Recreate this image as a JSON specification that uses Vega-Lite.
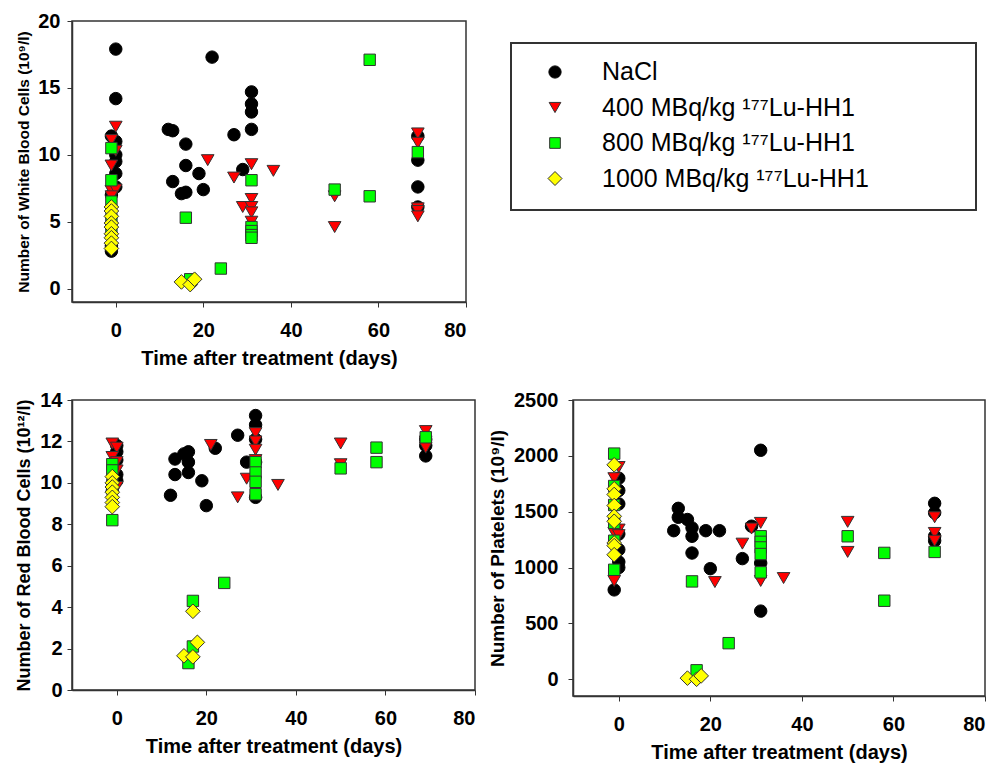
{
  "$schema": "https://vega.github.io/schema/vega-lite/v6.json",
  "background": "white",
  "padding": {"left": 15, "top": 10, "right": 5, "bottom": 3},
  "config": {
    "font": "Liberation Sans",
    "view": {"stroke": "#333333", "strokeWidth": 1.5},
    "axis": {
      "labelFont": "Liberation Sans", "labelFontWeight": "bold", "labelFontSize": 20, "labelColor": "#000000",
      "titleFont": "Liberation Sans", "titleFontWeight": "bold", "titleColor": "#000000",
      "tickColor": "#333333", "domainColor": "#333333", "tickSize": 5, "grid": false, "domainWidth": 1.5, "format": "d"
    },
    "axisX": {"titleFontSize": 20, "labelPadding": 13, "titlePadding": 8},
    "axisY": {"labelPadding": 7, "titlePadding": 6}
  },
  "datasets": {
    "wbc": [
      {"g":"NaCl","d":0,"v":17.9},{"g":"NaCl","d":0,"v":14.2},{"g":"NaCl","d":-1,"v":11.4},{"g":"NaCl","d":0,"v":11.0},{"g":"NaCl","d":0,"v":10.0},{"g":"NaCl","d":0,"v":9.5},{"g":"NaCl","d":0,"v":8.6},{"g":"NaCl","d":-1,"v":7.0},{"g":"NaCl","d":0,"v":7.6},{"g":"NaCl","d":-1,"v":2.8},{"g":"NaCl","d":-1,"v":3.2},
      {"g":"NaCl","d":12,"v":11.9},{"g":"NaCl","d":13,"v":11.8},{"g":"NaCl","d":16,"v":10.8},{"g":"NaCl","d":16,"v":9.2},{"g":"NaCl","d":19,"v":8.6},{"g":"NaCl","d":13,"v":8.0},{"g":"NaCl","d":15,"v":7.1},{"g":"NaCl","d":16,"v":7.2},{"g":"NaCl","d":20,"v":7.4},{"g":"NaCl","d":22,"v":17.3},{"g":"NaCl","d":27,"v":11.5},{"g":"NaCl","d":29,"v":8.9},{"g":"NaCl","d":31,"v":14.7},{"g":"NaCl","d":31,"v":13.8},{"g":"NaCl","d":31,"v":13.2},{"g":"NaCl","d":31,"v":11.9},{"g":"NaCl","d":69,"v":11.4},{"g":"NaCl","d":69,"v":9.6},{"g":"NaCl","d":69,"v":7.6},{"g":"NaCl","d":69,"v":6.1},
      {"g":"400","d":0,"v":12.1},{"g":"400","d":-1,"v":11.1},{"g":"400","d":0,"v":10.3},{"g":"400","d":-1,"v":9.2},{"g":"400","d":-1,"v":7.3},{"g":"400","d":0,"v":7.4},{"g":"400","d":-1,"v":6.9},{"g":"400","d":21,"v":9.6},{"g":"400","d":27,"v":8.3},{"g":"400","d":29,"v":6.1},{"g":"400","d":31,"v":9.3},{"g":"400","d":31,"v":6.7},{"g":"400","d":31,"v":6.1},{"g":"400","d":31,"v":5.7},{"g":"400","d":31,"v":5.0},{"g":"400","d":36,"v":8.8},{"g":"400","d":50,"v":6.9},{"g":"400","d":50,"v":4.6},{"g":"400","d":69,"v":11.6},{"g":"400","d":69,"v":10.9},{"g":"400","d":69,"v":6.0},{"g":"400","d":69,"v":5.8},{"g":"400","d":69,"v":5.4},
      {"g":"800","d":-1,"v":10.5},{"g":"800","d":-1,"v":8.1},{"g":"800","d":-1,"v":6.5},{"g":"800","d":-1,"v":5.2},{"g":"800","d":-1,"v":4.4},{"g":"800","d":16,"v":5.3},{"g":"800","d":17,"v":0.7},{"g":"800","d":24,"v":1.5},{"g":"800","d":31,"v":8.1},{"g":"800","d":31,"v":4.6},{"g":"800","d":31,"v":4.3},{"g":"800","d":31,"v":4.0},{"g":"800","d":31,"v":3.8},{"g":"800","d":50,"v":7.4},{"g":"800","d":58,"v":17.1},{"g":"800","d":58,"v":6.9},{"g":"800","d":69,"v":10.2},
      {"g":"1000","d":-1,"v":6.1},{"g":"1000","d":-1,"v":5.8},{"g":"1000","d":-1,"v":5.4},{"g":"1000","d":-1,"v":4.9},{"g":"1000","d":-1,"v":4.6},{"g":"1000","d":-1,"v":4.1},{"g":"1000","d":-1,"v":3.8},{"g":"1000","d":-1,"v":3.4},{"g":"1000","d":-1,"v":3.0},{"g":"1000","d":15,"v":0.5},{"g":"1000","d":17,"v":0.3},{"g":"1000","d":18,"v":0.7}
    ],
    "rbc": [
      {"g":"NaCl","d":0,"v":11.8},{"g":"NaCl","d":0,"v":11.5},{"g":"NaCl","d":0,"v":11.1},{"g":"NaCl","d":0,"v":10.4},{"g":"NaCl","d":0,"v":10.1},{"g":"NaCl","d":-1,"v":9.6},
      {"g":"NaCl","d":12,"v":9.4},{"g":"NaCl","d":13,"v":11.15},{"g":"NaCl","d":13,"v":10.4},{"g":"NaCl","d":15,"v":11.4},{"g":"NaCl","d":16,"v":11.5},{"g":"NaCl","d":16,"v":11.0},{"g":"NaCl","d":16,"v":10.5},{"g":"NaCl","d":19,"v":10.1},{"g":"NaCl","d":20,"v":8.9},{"g":"NaCl","d":22,"v":11.67},{"g":"NaCl","d":27,"v":12.3},{"g":"NaCl","d":29,"v":11.0},{"g":"NaCl","d":31,"v":13.25},{"g":"NaCl","d":31,"v":12.8},{"g":"NaCl","d":31,"v":12.1},{"g":"NaCl","d":31,"v":11.0},{"g":"NaCl","d":31,"v":9.3},{"g":"NaCl","d":69,"v":11.3},{"g":"NaCl","d":69,"v":11.8},{"g":"NaCl","d":69,"v":12.1},
      {"g":"400","d":-1,"v":11.9},{"g":"400","d":0,"v":11.7},{"g":"400","d":-1,"v":11.25},{"g":"400","d":0,"v":11.0},{"g":"400","d":0,"v":10.6},{"g":"400","d":0,"v":9.8},{"g":"400","d":21,"v":11.83},{"g":"400","d":27,"v":9.3},{"g":"400","d":29,"v":10.2},{"g":"400","d":31,"v":12.4},{"g":"400","d":31,"v":12.0},{"g":"400","d":31,"v":11.6},{"g":"400","d":31,"v":11.1},{"g":"400","d":36,"v":9.9},{"g":"400","d":50,"v":11.9},{"g":"400","d":50,"v":10.9},{"g":"400","d":69,"v":12.5},{"g":"400","d":69,"v":12.0},{"g":"400","d":69,"v":11.7},
      {"g":"800","d":-1,"v":10.9},{"g":"800","d":-1,"v":10.6},{"g":"800","d":-1,"v":9.9},{"g":"800","d":-1,"v":8.2},{"g":"800","d":16,"v":1.3},{"g":"800","d":17,"v":2.1},{"g":"800","d":17,"v":4.3},{"g":"800","d":24,"v":5.17},{"g":"800","d":31,"v":11.0},{"g":"800","d":31,"v":10.5},{"g":"800","d":31,"v":10.05},{"g":"800","d":31,"v":9.45},{"g":"800","d":50,"v":10.7},{"g":"800","d":58,"v":11.7},{"g":"800","d":58,"v":11.0},{"g":"800","d":69,"v":12.2},
      {"g":"1000","d":-1,"v":10.3},{"g":"1000","d":-1,"v":10.0},{"g":"1000","d":-1,"v":9.8},{"g":"1000","d":-1,"v":9.55},{"g":"1000","d":-1,"v":9.3},{"g":"1000","d":-1,"v":9.05},{"g":"1000","d":-1,"v":8.85},{"g":"1000","d":15,"v":1.65},{"g":"1000","d":17,"v":1.6},{"g":"1000","d":17,"v":3.8},{"g":"1000","d":18,"v":2.3}
    ],
    "plt": [
      {"g":"NaCl","d":0,"v":1800},{"g":"NaCl","d":0,"v":1690},{"g":"NaCl","d":0,"v":1570},{"g":"NaCl","d":0,"v":1300},{"g":"NaCl","d":0,"v":1160},{"g":"NaCl","d":0,"v":1050},{"g":"NaCl","d":0,"v":1000},{"g":"NaCl","d":-1,"v":800},
      {"g":"NaCl","d":12,"v":1330},{"g":"NaCl","d":13,"v":1530},{"g":"NaCl","d":13,"v":1450},{"g":"NaCl","d":15,"v":1430},{"g":"NaCl","d":16,"v":1355},{"g":"NaCl","d":16,"v":1280},{"g":"NaCl","d":16,"v":1130},{"g":"NaCl","d":19,"v":1330},{"g":"NaCl","d":20,"v":990},{"g":"NaCl","d":22,"v":1330},{"g":"NaCl","d":27,"v":1080},{"g":"NaCl","d":29,"v":1370},{"g":"NaCl","d":31,"v":2050},{"g":"NaCl","d":31,"v":1040},{"g":"NaCl","d":31,"v":610},{"g":"NaCl","d":69,"v":1575},{"g":"NaCl","d":69,"v":1490},{"g":"NaCl","d":69,"v":1280},{"g":"NaCl","d":69,"v":1240},
      {"g":"400","d":0,"v":1900},{"g":"400","d":-1,"v":1800},{"g":"400","d":0,"v":1340},{"g":"400","d":-1,"v":1310},{"g":"400","d":0,"v":1290},{"g":"400","d":-1,"v":880},{"g":"400","d":21,"v":870},{"g":"400","d":27,"v":1214},{"g":"400","d":29,"v":1349},{"g":"400","d":31,"v":1400},{"g":"400","d":31,"v":880},{"g":"400","d":36,"v":906},{"g":"400","d":50,"v":1409},{"g":"400","d":50,"v":1140},{"g":"400","d":69,"v":1450},{"g":"400","d":69,"v":1310},{"g":"400","d":69,"v":1240},
      {"g":"800","d":-1,"v":2020},{"g":"800","d":-1,"v":1730},{"g":"800","d":-1,"v":1560},{"g":"800","d":-1,"v":1400},{"g":"800","d":-1,"v":1240},{"g":"800","d":-1,"v":980},{"g":"800","d":16,"v":876},{"g":"800","d":17,"v":80},{"g":"800","d":24,"v":323},{"g":"800","d":31,"v":1280},{"g":"800","d":31,"v":1230},{"g":"800","d":31,"v":1180},{"g":"800","d":31,"v":1121},{"g":"800","d":31,"v":957},{"g":"800","d":50,"v":1280},{"g":"800","d":58,"v":1131},{"g":"800","d":58,"v":703},{"g":"800","d":69,"v":1140},
      {"g":"1000","d":-1,"v":1920},{"g":"1000","d":-1,"v":1705},{"g":"1000","d":-1,"v":1654},{"g":"1000","d":-1,"v":1555},{"g":"1000","d":-1,"v":1459},{"g":"1000","d":-1,"v":1414},{"g":"1000","d":-1,"v":1220},{"g":"1000","d":-1,"v":1196},{"g":"1000","d":-1,"v":1115},{"g":"1000","d":15,"v":10},{"g":"1000","d":17,"v":0},{"g":"1000","d":18,"v":30}
    ],
    "leg": [
      {"g":"NaCl","label":"NaCl"},
      {"g":"400","label":"400 MBq/kg ¹⁷⁷Lu-HH1"},
      {"g":"800","label":"800 MBq/kg ¹⁷⁷Lu-HH1"},
      {"g":"1000","label":"1000 MBq/kg ¹⁷⁷Lu-HH1"}
    ]
  },
  "spacing": 20,
  "vconcat": [
    {
      "spacing": 42,
      "hconcat": [
        {
          "width": 394, "height": 281,
          "data": {"name": "wbc"},
          "mark": {"type": "point", "filled": true, "strokeWidth": 1, "opacity": 1},
          "encoding": {
            "x": {"field": "d", "type": "quantitative", "scale": {"domain": [-10, 80], "nice": false, "zero": false}, "axis": {"values": [0, 20, 40, 60, 80], "title": "Time after treatment (days)"}},
            "y": {"field": "v", "type": "quantitative", "scale": {"domain": [-1, 20], "nice": false, "zero": false}, "axis": {"values": [0, 5, 10, 15, 20], "title": "Number of White Blood Cells (10⁹/l)", "titleFontSize": 15.5}},
            "color": {"field": "g", "type": "nominal", "scale": {"domain": ["NaCl", "400", "800", "1000"], "range": ["#000000", "#ff0000", "#00ff00", "#ffff00"]}, "legend": null},
            "shape": {"field": "g", "type": "nominal", "scale": {"domain": ["NaCl", "400", "800", "1000"], "range": ["circle", "triangle-down", "square", "diamond"]}, "legend": null},
            "stroke": {"field": "g", "type": "nominal", "scale": {"domain": ["NaCl", "400", "800", "1000"], "range": ["#000000", "#333333", "#333333", "#333333"]}, "legend": null},
            "size": {"field": "g", "type": "nominal", "scale": {"type": "ordinal", "domain": ["NaCl", "400", "800", "1000"], "range": [155, 160, 130, 215]}, "legend": null}
          }
        },
        {
          "width": 465, "height": 189,
          "view": {"stroke": null},
          "data": {"name": "leg"},
          "layer": [
            {
              "mark": {"type": "rect", "fill": null, "stroke": "#333333", "strokeWidth": 1.5},
              "encoding": {"x": {"value": 0}, "x2": {"value": 465}, "y": {"value": 22}, "y2": {"value": 189}}
            },
            {
              "mark": {"type": "point", "filled": true, "strokeWidth": 1, "opacity": 1},
              "encoding": {
                "x": {"value": 44},
                "y": {"field": "g", "type": "nominal", "sort": null, "scale": {"type": "point", "domain": ["NaCl", "400", "800", "1000"], "range": [51, 157.5], "padding": 0}, "axis": null},
                "color": {"field": "g", "type": "nominal", "scale": {"domain": ["NaCl", "400", "800", "1000"], "range": ["#000000", "#ff0000", "#00ff00", "#ffff00"]}, "legend": null},
                "shape": {"field": "g", "type": "nominal", "scale": {"domain": ["NaCl", "400", "800", "1000"], "range": ["circle", "triangle-down", "square", "diamond"]}, "legend": null},
                "stroke": {"field": "g", "type": "nominal", "scale": {"domain": ["NaCl", "400", "800", "1000"], "range": ["#000000", "#333333", "#333333", "#333333"]}, "legend": null},
                "size": {"field": "g", "type": "nominal", "scale": {"type": "ordinal", "domain": ["NaCl", "400", "800", "1000"], "range": [150, 137, 114, 196]}, "legend": null}
              }
            },
            {
              "mark": {"type": "text", "align": "left", "baseline": "middle", "fontSize": 25, "font": "Liberation Sans", "color": "#000000"},
              "encoding": {
                "x": {"value": 91},
                "y": {"field": "g", "type": "nominal", "sort": null, "scale": {"type": "point", "domain": ["NaCl", "400", "800", "1000"], "range": [51, 157.5], "padding": 0}, "axis": null},
                "text": {"field": "label"}
              }
            }
          ],
          "resolve": {"scale": {"size": "independent"}}
        }
      ]
    },
    {
      "spacing": 10,
      "hconcat": [
        {
          "width": 403, "height": 290,
          "data": {"name": "rbc"},
          "mark": {"type": "point", "filled": true, "strokeWidth": 1, "opacity": 1},
          "encoding": {
            "x": {"field": "d", "type": "quantitative", "scale": {"domain": [-10, 80], "nice": false, "zero": false}, "axis": {"values": [0, 20, 40, 60, 80], "title": "Time after treatment (days)"}},
            "y": {"field": "v", "type": "quantitative", "scale": {"domain": [0, 14], "nice": false, "zero": false}, "axis": {"values": [0, 2, 4, 6, 8, 10, 12, 14], "title": "Number of Red Blood Cells (10¹²/l)", "titleFontSize": 18, "labelPadding": 5}},
            "color": {"field": "g", "type": "nominal", "scale": {"domain": ["NaCl", "400", "800", "1000"], "range": ["#000000", "#ff0000", "#00ff00", "#ffff00"]}, "legend": null},
            "shape": {"field": "g", "type": "nominal", "scale": {"domain": ["NaCl", "400", "800", "1000"], "range": ["circle", "triangle-down", "square", "diamond"]}, "legend": null},
            "stroke": {"field": "g", "type": "nominal", "scale": {"domain": ["NaCl", "400", "800", "1000"], "range": ["#000000", "#333333", "#333333", "#333333"]}, "legend": null},
            "size": {"field": "g", "type": "nominal", "scale": {"type": "ordinal", "domain": ["NaCl", "400", "800", "1000"], "range": [155, 160, 130, 215]}, "legend": null}
          }
        },
        {
          "width": 412, "height": 296,
          "data": {"name": "plt"},
          "mark": {"type": "point", "filled": true, "strokeWidth": 1, "opacity": 1},
          "encoding": {
            "x": {"field": "d", "type": "quantitative", "scale": {"domain": [-10, 80], "nice": false, "zero": false}, "axis": {"values": [0, 20, 40, 60, 80], "title": "Time after treatment (days)"}},
            "y": {"field": "v", "type": "quantitative", "scale": {"domain": [-150, 2500], "nice": false, "zero": false}, "axis": {"values": [0, 500, 1000, 1500, 2000, 2500], "title": "Number of Platelets (10⁹/l)", "titleFontSize": 19, "labelPadding": 10}},
            "color": {"field": "g", "type": "nominal", "scale": {"domain": ["NaCl", "400", "800", "1000"], "range": ["#000000", "#ff0000", "#00ff00", "#ffff00"]}, "legend": null},
            "shape": {"field": "g", "type": "nominal", "scale": {"domain": ["NaCl", "400", "800", "1000"], "range": ["circle", "triangle-down", "square", "diamond"]}, "legend": null},
            "stroke": {"field": "g", "type": "nominal", "scale": {"domain": ["NaCl", "400", "800", "1000"], "range": ["#000000", "#333333", "#333333", "#333333"]}, "legend": null},
            "size": {"field": "g", "type": "nominal", "scale": {"type": "ordinal", "domain": ["NaCl", "400", "800", "1000"], "range": [155, 160, 130, 215]}, "legend": null}
          }
        }
      ]
    }
  ],
  "resolve": {"scale": {"size": "independent"}}
}
